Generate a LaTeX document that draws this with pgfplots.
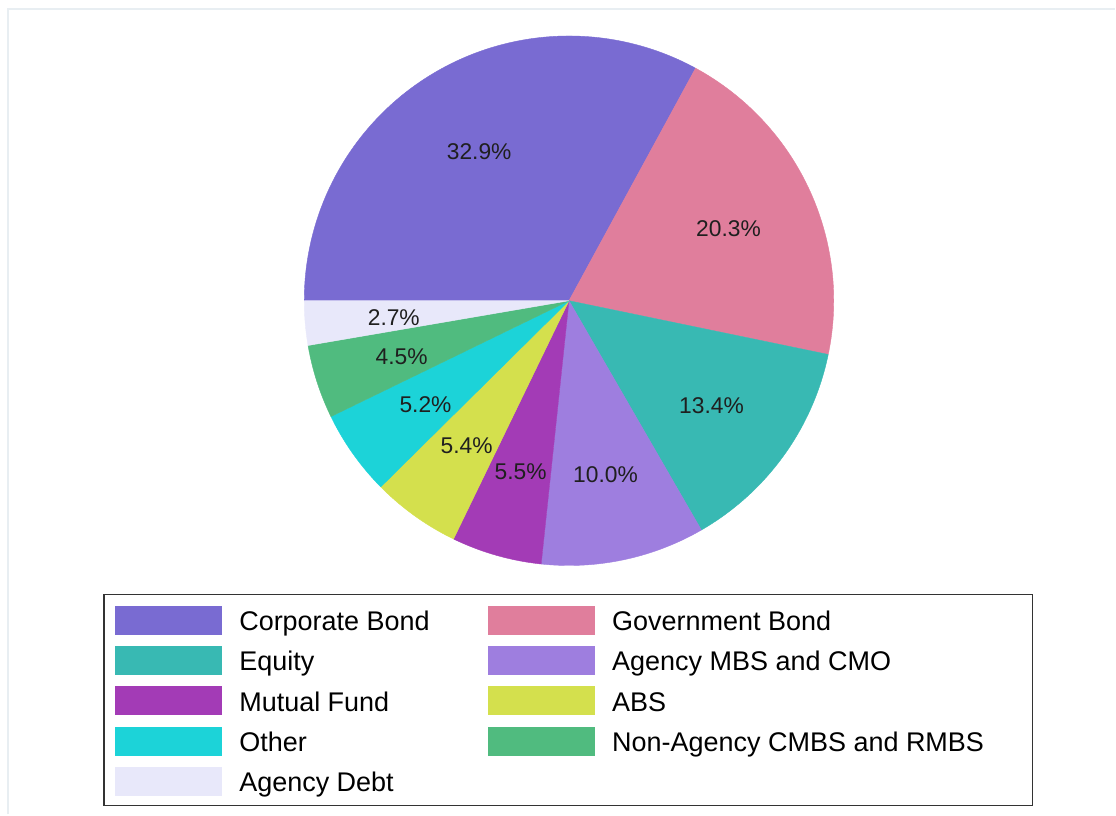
\documentclass[border=0pt]{standalone}
\usepackage{pgfplots}
\usepackage{pgfplotstable}
\pgfplotsset{compat=1.18}
\usepackage{fontspec}
\setmainfont{Liberation Sans}

\definecolor{cCorp}{HTML}{796BD2}
\definecolor{cGov}{HTML}{E07E9C}
\definecolor{cEq}{HTML}{38B9B3}
\definecolor{cMBS}{HTML}{9E7EDF}
\definecolor{cMF}{HTML}{A33BB6}
\definecolor{cABS}{HTML}{D4E04D}
\definecolor{cOth}{HTML}{1CD3D8}
\definecolor{cNA}{HTML}{50BB7F}
\definecolor{cAD}{HTML}{E8E8FA}
\definecolor{frame}{RGB}{232,238,242}

% shares of each category (percent), clockwise from 9 o'clock
\pgfplotstableread{
pct
32.9
20.3
13.4
10.0
5.5
5.4
5.2
4.5
2.7
}\slices
\pgfplotstablecreatecol[create col/expr accum={\pgfmathaccuma + \thisrow{pct}}{0}]{cum}\slices
\def\total{99.9}

\pgfmathsetmacro\aA{180}
\pgfmathsetmacro\aB{\aA-32.9*360/\total}
\pgfmathsetmacro\aC{\aB-20.3*360/\total}
\pgfmathsetmacro\aD{\aC-13.4*360/\total}
\pgfmathsetmacro\aE{\aD-10.0*360/\total}
\pgfmathsetmacro\aF{\aE-5.5*360/\total}
\pgfmathsetmacro\aG{\aF-5.4*360/\total}
\pgfmathsetmacro\aH{\aG-5.2*360/\total}
\pgfmathsetmacro\aI{\aH-4.5*360/\total}
\pgfmathsetmacro\aJ{\aI-2.7*360/\total}

\def\cx{569.5}
\def\cy{514}
\def\R{265}

\newcommand\slice[3]{%
  \addplot[fill=#1, draw=#1, line width=0.2pt, line join=round, domain=#3:#2, samples=120, variable=\t]
    ({\cx+\R*cos(t)},{\cy+\R*sin(t)}) -- (axis cs:\cx,\cy) -- cycle;}

\begin{document}
\begin{tikzpicture}
\begin{axis}[
  width=558pt, height=407.5pt, scale only axis,
  xmin=0, xmax=1116, ymin=0, ymax=815,
  hide axis, clip=false,
  legend columns=2,
  legend image code/.code={%
    \path (0pt,-3.15pt) (0pt,14.2pt);
    \fill[#1, draw=none] (0pt,-2.15pt) rectangle (53.35pt,12.35pt);},
  legend style={
    at={(axis cs:104,220)}, anchor=north west,
    draw=black!80, line width=0.8pt, outer sep=0pt,
    inner xsep=5.65pt, inner ysep=3.65pt,
    font=\fontsize{13.5}{16}\selectfont,
    cells={anchor=base west},
    nodes={inner sep=0pt, outer sep=0pt},
    row sep=2.65pt,
    /tikz/every odd column/.append style={column sep=8.65pt},
    /tikz/every even column/.append style={column sep=29.2pt},
  },
]
\path (axis cs:0,0) rectangle (axis cs:1116,815);
\draw[frame, line width=1pt] (axis cs:8,0) -- (axis cs:8,805.5) -- (axis cs:1116,805.5);

\slice{cCorp}{\aA}{\aB} \addlegendentry{Corporate Bond}
\slice{cGov}{\aB}{\aC} \addlegendentry{Government Bond}
\slice{cEq}{\aC}{\aD} \addlegendentry{Equity}
\slice{cMBS}{\aD}{\aE} \addlegendentry{Agency MBS and CMO}
\slice{cMF}{\aE}{\aF} \addlegendentry{Mutual Fund}
\slice{cABS}{\aF}{\aG} \addlegendentry{ABS}
\slice{cOth}{\aG}{\aH} \addlegendentry{Other}
\slice{cNA}{\aH}{\aI} \addlegendentry{\makebox[204.7pt][l]{Non-Agency CMBS and RMBS}}
\slice{cAD}{\aI}{\aJ} \addlegendentry{Agency Debt}

\addplot[forget plot, draw=none, mark=none,
  point meta=\thisrow{pct},
  nodes near coords={\pgfmathprintnumber[fixed,fixed zerofill,precision=1,assume math mode=true]{\pgfplotspointmeta}\%},
  nodes near coords align={center},
  every node near coord/.append style={anchor=center, inner sep=0pt, text=black!88,
    font=\fontsize{11.4}{13}\selectfont}]
  table[x expr={\cx+176*cos(180-(\thisrow{cum}-0.5*\thisrow{pct})*360/\total)},
        y expr={\cy-2+176*sin(180-(\thisrow{cum}-0.5*\thisrow{pct})*360/\total)}] {\slices};
\end{axis}
\end{tikzpicture}
\end{document}
